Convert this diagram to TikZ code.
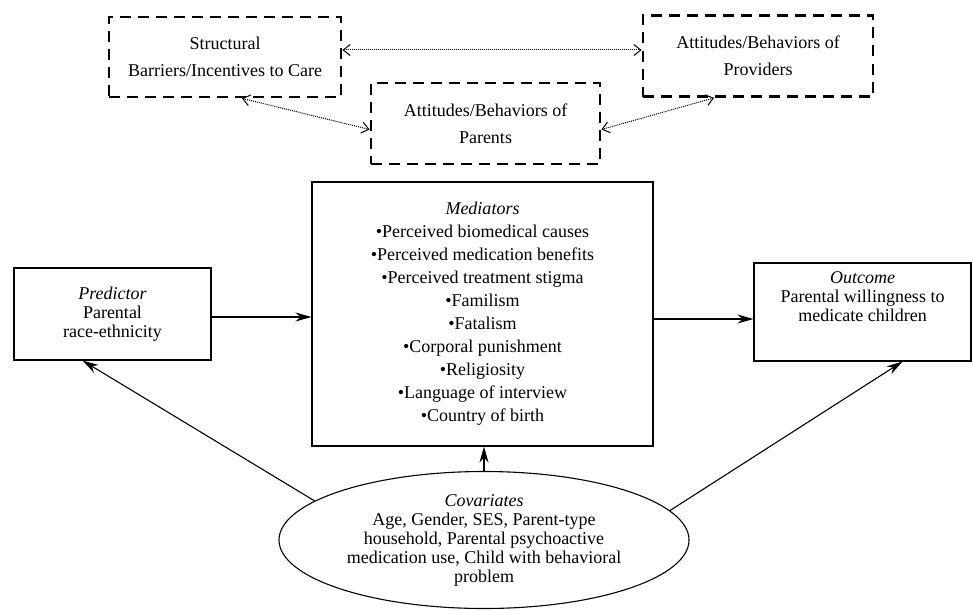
\documentclass[tikz,border=0pt]{standalone}
\usepackage{fontspec}
\setmainfont{Liberation Serif}
\usetikzlibrary{arrows.meta,shapes.geometric}

\begin{document}
\begin{tikzpicture}[x=1pt,y=-1pt,
    every node/.style={font=\fontsize{18}{19}\selectfont, align=center},
    dashbox/.style={draw, line width=2.8pt, dash pattern=on 11pt off 7pt,
      minimum width=232pt, minimum height=80pt, inner sep=0pt,
      font=\fontsize{18}{27}\selectfont},
    solidbox/.style={draw, line width=1.1pt, inner sep=0pt},
    dotarrow/.style={{Straight Barb[length=7pt,width=11pt]}-{Straight Barb[length=7pt,width=11pt]},
      line width=1pt, dash pattern=on 1pt off 1pt},
    mainarrow/.style={-{Stealth[length=16pt,width=9pt,inset=5pt]}, line width=1.1pt}]
    \useasboundingbox (0,0) rectangle (973,610);

    % context boxes
    \node[dashbox] (structural) at (225,57) {Structural\\Barriers/Incentives to Care};
    \node[dashbox, minimum width=229pt, minimum height=81pt] (parents) at (485.5,123.5) {Attitudes/Behaviors of\\Parents};
    \node[dashbox, minimum width=230pt, minimum height=81pt] (providers) at (758,56) {Attitudes/Behaviors of\\Providers};

    \coordinate (sp) at ([yshift=7pt]structural.east);
    \draw[dotarrow] (sp) -- (sp -| providers.west);
    \draw[dotarrow] ([xshift=17pt]structural.south) -- ([yshift=-6pt]parents.west);
    \draw[dotarrow] ([xshift=-44pt]providers.south) -- ([yshift=-6pt]parents.east);

    % model
    \node[solidbox, minimum width=197pt, minimum height=92pt] (predictor) at (112.5,314)
        {\textit{Predictor}\\Parental\\race-ethnicity};
    \node[solidbox, minimum width=341pt, minimum height=264pt, font=\fontsize{18}{23}\selectfont] (mediators) at (482.5,314)
        {\textit{Mediators}\\•Perceived biomedical causes\\•Perceived medication benefits\\•Perceived treatment stigma\\
         •Familism\\•Fatalism\\•Corporal punishment\\•Religiosity\\•Language of interview\\•Country of birth};
    \node[solidbox, minimum width=217pt, minimum height=98pt] (outcome) at (862.5,312)
        {\textit{Outcome}\\Parental willingness to\\medicate children\\[12pt]};
    \node[solidbox, ellipse, minimum width=410pt, minimum height=137pt] (covariates) at (484,540)
        {\textit{Covariates}\\Age, Gender, SES, Parent-type\\household, Parental psychoactive\\medication use, Child with behavioral\\problem};

    \coordinate (pe) at ([yshift=-3pt]predictor.east);
    \draw[mainarrow] (pe) -- (pe -| mediators.west);
    \coordinate (oe) at ([yshift=-7pt]outcome.west);
    \draw[mainarrow] (oe -| mediators.east) -- (oe);
    \draw[mainarrow] (covariates.north) -- (covariates.north |- mediators.south);
    \draw[mainarrow] (covariates.167) -- ([xshift=-30pt]predictor.south);
    \draw[mainarrow] (covariates.9) -- ([xshift=40pt]outcome.south);
\end{tikzpicture}
\end{document}
